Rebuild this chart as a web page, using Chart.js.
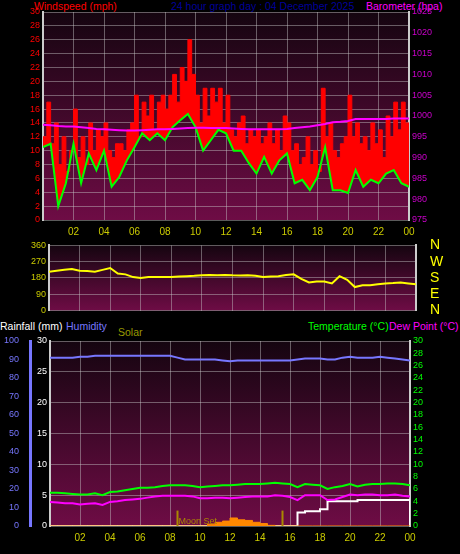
<!DOCTYPE html>
<html>
<head>
<meta charset="utf-8">
<script src="https://cdn.jsdelivr.net/npm/chart.js@4.4.1/dist/chart.umd.min.js"></script>
<style>
  body { margin: 0; background: #000; width: 460px; height: 554px; overflow: hidden; position: relative; font-family: "Liberation Sans", Arial, sans-serif; }
  canvas { position: absolute; left: 0; }
  .t { position: absolute; font-size: 10.5px; white-space: nowrap; line-height: 12px; }
</style>
</head>
<body>
<div class="t" style="left:34px;top:0;color:#ff0000">Windspeed (mph)</div>
<div class="t" style="left:171px;top:0;color:#000099">24 hour graph day : 04 December 2025</div>
<div class="t" style="left:366px;top:0;color:#ff00ff">Barometer (hpa)</div>
<div class="t" style="left:0;top:320px;color:#ffffff">Rainfall (mm)</div>
<div class="t" style="left:66px;top:320px;color:#7777ff">Humidity</div>
<div class="t" style="left:118px;top:326px;color:#999900">Solar</div>
<div class="t" style="left:308px;top:320px;color:#00ff00">Temperature (°C)</div>
<div class="t" style="left:389px;top:320px;color:#ff00ff">Dew Point (°C)</div>

<canvas id="windChart"></canvas>
<canvas id="dirChart"></canvas>
<canvas id="tempChart"></canvas>

<script>
// ========== DATA ==========
// half-hourly readings, 00:00 .. 24:00
const hours = Array.from({ length: 49 }, (_, i) => i / 2);
// quarter-hourly gust readings
const gustHours = Array.from({ length: 97 }, (_, i) => i / 4);

const hourTicks = [2, 4, 6, 8, 10, 12, 14, 16, 18, 20, 22, 24];

const windGust = [
    12, 17, 11, 14, 8, 12, 7, 10, 16, 9, 12, 8, 14, 10, 13, 12,
    14, 10, 9, 11, 11, 10, 13, 14, 18, 12, 17, 15, 18, 13, 17, 18,
    16, 18, 21, 17, 22, 20, 26, 21, 18, 14, 19, 15, 19, 17, 19, 14,
    18, 13, 12, 14, 15, 11, 13, 12, 13, 11, 12, 14, 11, 13, 10, 15,
    14, 10, 11, 8, 9, 12, 8, 10, 7, 19, 12, 14, 10, 9, 11, 12,
    18, 12, 14, 11, 12, 10, 14, 11, 13, 9, 15, 12, 17, 13, 17, 14, 11
];
const windAvg = [
    10.5, 11, 2, 5.3, 11, 5.3, 9.6, 7.2, 10, 4.8, 6.2, 8.6, 10.5, 12.5, 11.5, 12.5,
    11.5, 13.4, 14.4, 15.3, 13.4, 10, 11.5, 13, 12.5, 10, 10, 8.2, 6.7, 9.1, 6.7, 8.6,
    9.6, 5.3, 5.8, 4.3, 6.2, 10.5, 4.3, 4.3, 3.9, 7.2, 4.8, 5.8, 5.3, 6.7, 7.2, 5.3, 4.8
];
const barometer = [
    997.9, 997.8, 997.6, 997.5, 997.5, 997.3, 997.1, 996.9, 996.8, 996.7, 996.6, 996.5, 996.5, 996.6, 996.7, 996.8,
    996.8, 996.9, 997.0, 997.1, 997.2, 997.2, 997.1, 997.1, 997.1, 997.0, 996.9, 996.8, 996.8, 996.8, 996.8, 996.8,
    996.9, 997.1, 997.3, 997.5, 997.8, 998.1, 998.5, 998.6, 998.8, 999.3, 999.3, 999.3, 999.3, 999.3, 999.4, 999.4, 999.4
];
const windDir = [
    215, 220, 225, 230, 220, 218, 215, 225, 235, 205, 200, 185, 180, 185, 185, 186,
    185, 188, 190, 192, 195, 196, 195, 197, 195, 194, 195, 192, 185, 188, 190, 196,
    200, 175, 155, 160, 160, 150, 190, 170, 130, 140, 140, 145, 150, 152, 155, 150, 145
];
const humidity = [
    91, 91, 91, 91, 91.5, 91.5, 92, 92, 92, 92, 92, 92, 92, 92, 92, 92,
    92, 91, 90, 90, 90, 90, 90, 89.5, 89, 89.5, 89.5, 89.5, 89.5, 89.5, 89.5, 89.5,
    89.5, 90, 90.5, 90.5, 90.5, 90, 90, 91, 91.5, 91, 91, 91, 91.5, 91, 90.5, 90, 89.5
];
const temperature = [
    5.4, 5.4, 5.3, 5.2, 5.1, 5.1, 5.3, 5.0, 5.5, 5.6, 5.8, 6.0, 6.2, 6.2, 6.3, 6.5,
    6.6, 6.6, 6.6, 6.5, 6.3, 6.4, 6.5, 6.6, 6.6, 6.7, 6.8, 6.8, 6.8, 6.9, 7.0, 6.9,
    6.8, 6.3, 6.8, 6.7, 6.6, 6.0, 6.3, 6.5, 6.8, 6.4, 6.7, 6.8, 6.8, 6.9, 6.9, 6.8, 6.6
];
const dewPoint = [
    3.9, 3.8, 3.7, 3.7, 3.5, 3.6, 3.7, 3.4, 3.9, 4.0, 4.2, 4.3, 4.4, 4.6, 4.8, 4.9,
    4.9, 4.9, 4.9, 4.8, 4.5, 4.5, 4.6, 4.6, 4.5, 4.6, 4.7, 4.8, 4.8, 4.8, 5.0, 4.9,
    4.7, 4.2, 5.0, 5.0, 5.0, 4.2, 4.3, 4.7, 5.1, 5.0, 5.1, 5.1, 5.0, 5.0, 5.1, 4.9, 4.8
];
const rainfall = [
    0, 0, 0, 0, 0, 0, 0, 0, 0, 0, 0, 0, 0, 0, 0, 0,
    0, 0, 0, 0, 0, 0, 0, 0, 0, 0, 0, 0, 0, 0, 0, 0,
    0, 2.2, 2.4, 2.4, 2.7, 4.0, 4.0, 4.0, 4.0, 4.2, 4.2, 4.2, 4.2, 4.2, 4.2, 4.2, 0
];
const solar = [
    0, 0, 0, 0, 0, 0, 0, 0, 0, 0, 0, 0, 0, 0, 0, 0,
    0, 0, 0, 0, 0, 0.3, 0.6, 0.8, 1.3, 1.0, 0.9, 0.6, 0.4, 0.1, 0, 0,
    0, 0, 0, 0, 0, 0, 0, 0, 0, 0, 0, 0, 0, 0, 0, 0, 0
];
// olive markers (moon set etc.), hours
const eventHours = [8.5, 15.5];

// ========== HELPERS ==========
const FONT = "'Liberation Sans', Arial, sans-serif";
const gridStyle = { color: "rgba(200,200,200,0.45)", lineWidth: 1, drawTicks: false };
const toXY = (xs, ys) => ys.map((v, i) => ({ x: xs[i], y: v }));
const hh = v => (v === 24 ? "00" : String(v).padStart(2, "0"));

const plotBackground = {
    id: "plotBackground",
    beforeDraw(chart) {
        const { ctx, chartArea: a } = chart;
        const g = ctx.createLinearGradient(0, a.top, 0, a.bottom);
        g.addColorStop(0, "#150510");
        g.addColorStop(1, "#6e0c45");
        ctx.save();
        ctx.fillStyle = g;
        ctx.fillRect(a.left, a.top, a.right - a.left, a.bottom - a.top);
        ctx.restore();
    }
};

function setup(id, top, height) {
    const c = document.getElementById(id);
    c.style.top = top + "px";
    c.width = 460;
    c.height = height;
    c.style.width = "460px";
    c.style.height = height + "px";
    return c.getContext("2d");
}

function xAxis(showLabels, height) {
    return {
        type: "linear", min: 0, max: 24,
        grid: { ...gridStyle, drawOnChartArea: true },
        border: { display: false },
        afterBuildTicks: s => { s.ticks = hourTicks.map(v => ({ value: v })); },
        afterFit: s => { s.height = height; },
        ticks: {
            display: showLabels, color: "#cccc00", font: { family: FONT, size: 10 },
            padding: 6, maxRotation: 0, callback: hh
        }
    };
}

function yAxis(pos, min, max, step, color, width, extra) {
    return Object.assign({
        position: pos, min: min, max: max,
        grid: { ...gridStyle, drawOnChartArea: pos === "left" },
        border: { color: "#cccccc", width: 2 },
        afterFit: s => { s.width = width; },
        ticks: { stepSize: step, color: color, font: { family: FONT, size: 9 }, padding: 3,
                 autoSkip: false, callback: v => String(v) }
    }, extra || {});
}

const base = {
    responsive: false, animation: false,
    plugins: { legend: { display: false }, tooltip: { enabled: false } },
    elements: { point: { radius: 0 }, line: { tension: 0 } }
};

// ========== WIND / BAROMETER ==========
new Chart(setup("windChart", 0, 242), {
    type: "line",
    data: {
        datasets: [
            { data: toXY(hours, barometer), borderColor: "#ff00ff", borderWidth: 2, yAxisID: "baro", order: 0 },
            { data: toXY(hours, windAvg), borderColor: "#00ff00", borderWidth: 2, yAxisID: "y", order: 1 },
            { data: toXY(gustHours, windGust), borderColor: "#ff0000", borderWidth: 1, backgroundColor: "#ff0000",
              fill: 1, yAxisID: "y", order: 2, stepped: true }
        ]
    },
    options: {
        ...base,
        layout: { padding: { top: 12 } },
        scales: {
            x: xAxis(true, 22),
            y: yAxis("left", 0, 30, 2, "#ff0000", 43),
            baro: yAxis("right", 975, 1025, 5, "#cc00cc", 51)
        }
    },
    plugins: [plotBackground]
});

// ========== WIND DIRECTION ==========
const compass = { 0: "N", 90: "E", 180: "S", 270: "W", 360: "N" };
new Chart(setup("dirChart", 223, 110), {
    type: "line",
    data: {
        datasets: [
            { data: toXY(hours, windDir), borderColor: "#ffff00", borderWidth: 2, yAxisID: "y" },
            { data: [], yAxisID: "dir" }
        ]
    },
    options: {
        ...base,
        layout: { padding: { top: 2, bottom: 2 } },
        scales: {
            x: xAxis(false, 0),
            y: yAxis("left", 0, 360, 90, "#cccc00", 49),
            dir: yAxis("right", 0, 360, 90, "#ffff00", 44, {
                ticks: { stepSize: 90, color: "#ffff00", font: { family: FONT, size: 14 }, padding: 14,
                         autoSkip: false, callback: v => compass[v] }
            })
        }
    },
    plugins: [plotBackground]
});

// ========== TEMPERATURE / HUMIDITY / RAIN ==========
const eventMarkers = {
    id: "eventMarkers",
    afterDatasetsDraw(chart) {
        const { ctx, chartArea: a, scales } = chart;
        ctx.save();
        ctx.strokeStyle = "#aa8800";
        ctx.lineWidth = 2;
        eventHours.forEach(h => {
            const x = scales.x.getPixelForValue(h);
            ctx.beginPath();
            ctx.moveTo(x, scales.t.getPixelForValue(2.5));
            ctx.lineTo(x, a.bottom);
            ctx.stroke();
        });
        ctx.fillStyle = "#aa8800";
        ctx.font = "9px " + FONT;
        ctx.fillText("Moon Set", scales.x.getPixelForValue(eventHours[0]) + 1, a.bottom - 2);
        ctx.restore();
    }
};

new Chart(setup("tempChart", 320, 234), {
    type: "line",
    data: {
        datasets: [
            { data: toXY(hours, humidity), borderColor: "#7777ff", borderWidth: 2, yAxisID: "hum" },
            { data: toXY(hours, temperature), borderColor: "#00ff00", borderWidth: 2, yAxisID: "t" },
            { data: toXY(hours, dewPoint), borderColor: "#ff00ff", borderWidth: 2, yAxisID: "t" },
            { data: toXY(hours, solar), borderColor: "#ff8800", borderWidth: 1, backgroundColor: "#ff8800",
              fill: "origin", yAxisID: "t", stepped: true },
            { data: toXY(hours, rainfall), borderColor: "#ffffff", borderWidth: 2, yAxisID: "rain", stepped: true }
        ]
    },
    options: {
        ...base,
        layout: { padding: { top: 21 } },
        scales: {
            x: xAxis(true, 28),
            rain: yAxis("left", 0, 30, 5, "#ffffff", 20, {
                grid: { ...gridStyle, drawOnChartArea: true }
            }),
            hum: yAxis("left", 0, 100, 10, "#7777ff", 30, {
                border: { color: "#7777ff", width: 3 },
                grid: { display: false }
            }),
            t: yAxis("right", 0, 30, 2, "#00ff00", 50)
        }
    },
    plugins: [plotBackground, eventMarkers]
});
</script>
</body>
</html>
